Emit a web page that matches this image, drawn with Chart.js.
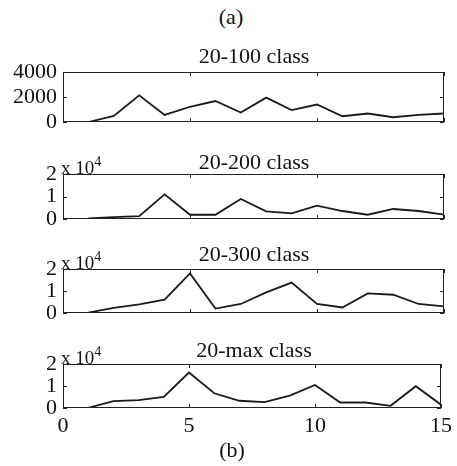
<!DOCTYPE html>
<html>
<head>
<meta charset="utf-8">
<script src="https://cdn.jsdelivr.net/npm/chart.js@4/dist/chart.umd.min.js"></script>
<style>
    body { margin: 0; background: #fff; }
    #fig { position: relative; width: 457px; height: 466px; overflow: hidden; }
    #fig canvas { position: absolute; left: 0; }
    .txt { position: absolute; font-family: "Liberation Serif", serif; color: #111; white-space: nowrap; line-height: 22px; font-size: 22px; z-index: 2; }
    .mid { transform: translateX(-50%); }
    .sci { font-size: 19px; }
    .sci sup { font-size: 14px; position: relative; top: -1px; }
</style>
</head>
<body>
<div id="fig">
    <div class="txt mid" style="left:231px; top:6px;">(a)</div>
    <div class="txt mid" style="left:254px; top:45px;">20-100 class</div>
    <div class="txt mid" style="left:254px; top:151px;">20-200 class</div>
    <div class="txt mid" style="left:254px; top:243px;">20-300 class</div>
    <div class="txt mid" style="left:254px; top:339px;">20-max class</div>
    <div class="txt sci" style="left:61px; top:152px;">x 10<sup>4</sup></div>
    <div class="txt sci" style="left:61px; top:247px;">x 10<sup>4</sup></div>
    <div class="txt sci" style="left:61px; top:342px;">x 10<sup>4</sup></div>
    <div class="txt mid" style="left:232px; top:439px;">(b)</div>

    <canvas id="c100" width="457" height="90" style="top:52px"></canvas>
    <canvas id="c200" width="457" height="85" style="top:154px"></canvas>
    <canvas id="c300" width="457" height="84" style="top:249px"></canvas>
    <canvas id="cmax" width="457" height="104" style="top:344px"></canvas>
</div>
<script>
// x positions (15 samples)
const xs = [1, 2, 3, 4, 5, 6, 7, 8, 9, 10, 11, 12, 13, 14, 15];

// values
const class100 = [0, 490, 2130, 570, 1220, 1680, 760, 1950, 950, 1400, 460, 680, 380, 570, 680];
const class200 = [300, 800, 1300, 10950, 1900, 1900, 8900, 3400, 2500, 5900, 3550, 1900, 4450, 3550, 1900];
const class300 = [200, 2300, 3900, 6100, 18000, 2000, 4100, 9400, 13800, 4100, 2500, 8900, 8300, 4100, 3000];
const classMax = [100, 3100, 3600, 5000, 16100, 6700, 3300, 2700, 5600, 10500, 2500, 2500, 1000, 9900, 1500];

const xTicks = [0, 5, 10, 15];

const font = { family: "Liberation Serif", size: 22 };

// box + inward tick marks, matlab style
const boxPlugin = {
    id: 'box',
    afterDatasetsDraw(chart) {
        var c = chart.ctx, a = chart.chartArea;
        var xs_ = chart.scales.x, ys_ = chart.scales.y;
        var len = 4;
        c.save();
        c.strokeStyle = '#222';
        c.lineWidth = 1;
        c.strokeRect(Math.round(a.left) + 0.5, Math.round(a.top) + 0.5, Math.round(a.right - a.left) - 1, Math.round(a.bottom - a.top) - 1);
        c.beginPath();
        xTicks.forEach(t => {
            var px = Math.round(xs_.getPixelForValue(t)) + 0.5;
            c.moveTo(px, a.top); c.lineTo(px, a.top + len);
            c.moveTo(px, a.bottom); c.lineTo(px, a.bottom - len);
        });
        ys_.ticks.forEach(t => {
            var py = Math.round(ys_.getPixelForValue(t.value)) + 0.5;
            c.moveTo(a.left, py); c.lineTo(a.left + len, py);
            c.moveTo(a.right, py); c.lineTo(a.right - len, py);
        });
        c.stroke();
        c.restore();
    }
};

function makePlot(id, values, yMax, yStep, scaleDiv, showX) {
    var pts = xs.map((x, i) => ({ x: x, y: values[i] }));
    return new Chart(document.getElementById(id), {
        type: 'line',
        data: {
            datasets: [{
                data: pts,
                borderColor: '#1a1a1a',
                borderWidth: 1.8,
                pointRadius: 0,
                tension: 0
            }]
        },
        options: {
            responsive: false,
            animation: false,
            layout: { padding: { top: 20, right: 13, bottom: showX ? 0 : 20, left: 0 } },
            plugins: { legend: { display: false }, tooltip: { enabled: false } },
            scales: {
                x: {
                    type: 'linear',
                    display: showX,
                    min: 0, max: 15,
                    grid: { display: false, drawTicks: false },
                    border: { display: false },
                    ticks: { stepSize: 5, padding: 5, color: '#111', font: font, maxRotation: 0, autoSkip: false },
                    afterFit: s => { if (showX) s.height = 40; }
                },
                y: {
                    min: 0, max: yMax,
                    grid: { display: false, drawTicks: false },
                    border: { display: false },
                    ticks: {
                        stepSize: yStep, padding: 6, color: '#111', font: font, autoSkip: false,
                        callback: v => String(v / scaleDiv)
                    },
                    afterFit: s => { s.width = 63; }
                }
            }
        },
        plugins: [boxPlugin]
    });
}

makePlot('c100', class100, 4000, 2000, 1, false);
makePlot('c200', class200, 20000, 10000, 10000, false);
makePlot('c300', class300, 20000, 10000, 10000, false);
makePlot('cmax', classMax, 20000, 10000, 10000, true);
</script>
</body>
</html>
